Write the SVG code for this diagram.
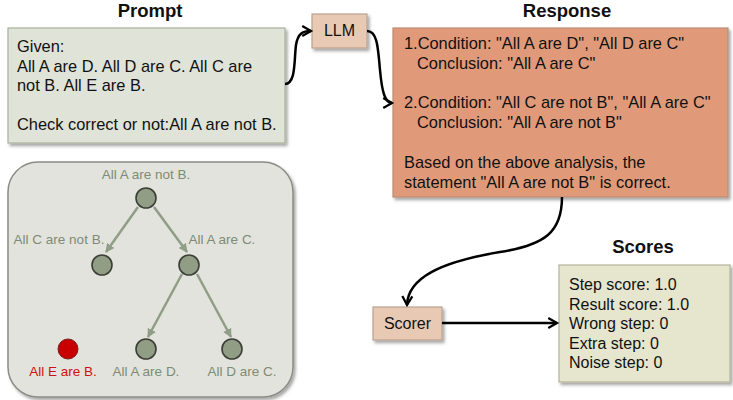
<svg xmlns="http://www.w3.org/2000/svg" width="733" height="400" viewBox="0 0 733 400">
<style>
text{font-family:"Liberation Sans",Arial,sans-serif;}
.t{font-size:16px;fill:#111;}
.tb{font-size:16.4px;}
.title{font-size:18.5px;font-weight:bold;fill:#111;text-anchor:middle;}
.lbl{font-size:13.5px;fill:#7f8b74;text-anchor:middle;}
.conn{fill:none;stroke:#000;stroke-width:2.5;}
.tarr{stroke:#909d87;stroke-width:2.5;fill:none;}
.tn{fill:#919d85;stroke:#3c3f38;stroke-width:1.6;}
</style>
<defs>
<filter id="sh" x="-10%" y="-10%" width="125%" height="130%">
<feDropShadow dx="2" dy="2.5" stdDeviation="1.5" flood-color="#000" flood-opacity="0.35"/>
</filter>
<marker id="ah" viewBox="0 0 10 10" refX="8" refY="5" markerWidth="5" markerHeight="5" orient="auto" markerUnits="strokeWidth">
<path d="M1,1 L8,5 L1,9" fill="none" stroke="#000" stroke-width="1.8"/>
</marker>
<marker id="ta" viewBox="0 0 10 10" refX="9" refY="5" markerWidth="3.6" markerHeight="3.6" orient="auto" markerUnits="strokeWidth">
<path d="M0,0 L10,5 L0,10 z" fill="#909d87"/>
</marker>
</defs>

<text class="title" x="150" y="17">Prompt</text>
<text class="title" x="567" y="17">Response</text>
<text class="title" x="643" y="253">Scores</text>

<g id="prompt">
<rect x="8" y="28" width="277" height="115" fill="#dfe3d8" stroke="#a9b19d" stroke-width="1.2" filter="url(#sh)"/>
<text class="t tb" x="17" y="52">Given:</text>
<text class="t tb" x="17" y="72">All A are D. All D are C. All C are</text>
<text class="t tb" x="17" y="91">not B. All E are B.</text>
<text class="t tb" x="17" y="130">Check correct or not:All A are not B.</text>
</g>

<g id="llm">
<rect x="312" y="14" width="55" height="34" fill="#e8c9b3" stroke="#b9a38f" stroke-width="1.2" filter="url(#sh)"/>
<text class="t" x="339.5" y="36" text-anchor="middle">LLM</text>
</g>

<g id="response">
<rect x="393" y="28" width="335" height="169" fill="#e09a79" stroke="#bb8c72" stroke-width="1.2" filter="url(#sh)"/>
<text class="t tb" x="404" y="49">1.Condition: "All A are D", "All D are C"</text>
<text class="t tb" x="417" y="69">Conclusion: "All A are C"</text>
<text class="t tb" x="404" y="108">2.Condition: "All C are not B", "All A are C"</text>
<text class="t tb" x="417" y="128">Conclusion: "All A are not B"</text>
<text class="t tb" x="404" y="168">Based on the above analysis, the</text>
<text class="t tb" x="404" y="188">statement "All A are not B" is correct.</text>
</g>

<g id="scorer">
<rect x="373" y="307" width="69" height="33" fill="#e8c9b3" stroke="#b9a38f" stroke-width="1.2" filter="url(#sh)"/>
<text class="t" x="407.5" y="329" text-anchor="middle">Scorer</text>
</g>

<g id="scores">
<rect x="559" y="265" width="171" height="117" fill="#e6e5cd" stroke="#b6b49b" stroke-width="1.2" filter="url(#sh)"/>
<text class="t" x="569" y="290">Step score: 1.0</text>
<text class="t" x="569" y="310">Result score: 1.0</text>
<text class="t" x="569" y="329">Wrong step: 0</text>
<text class="t" x="569" y="349">Extra step: 0</text>
<text class="t" x="569" y="368">Noise step: 0</text>
</g>

<g id="tree">
<rect x="8" y="162" width="285" height="235" rx="30" ry="30" fill="#e2e3dc" stroke="#8b8c86" stroke-width="1.5" filter="url(#sh)"/>
<g id="tree-edges">
<line class="tarr" x1="138" y1="207" x2="106" y2="252" marker-end="url(#ta)"/>
<line class="tarr" x1="154" y1="207" x2="187" y2="252" marker-end="url(#ta)"/>
<line class="tarr" x1="182" y1="274" x2="148" y2="337" marker-end="url(#ta)"/>
<line class="tarr" x1="197" y1="274" x2="231" y2="337" marker-end="url(#ta)"/>
</g>
<g id="n-root"><circle class="tn" cx="146" cy="198" r="10"/><text class="lbl" x="146" y="179">All A are not B.</text></g>
<g id="n-cb"><circle class="tn" cx="102" cy="265" r="10"/><text class="lbl" x="59" y="244">All C are not B.</text></g>
<g id="n-ac"><circle class="tn" cx="189" cy="265" r="10"/><text class="lbl" x="222" y="244">All A are C.</text></g>
<g id="n-eb"><circle cx="68" cy="349" r="10" fill="#c80000" stroke="#7a2020" stroke-width="1"/><text class="lbl" x="63" y="376" style="fill:#d01010">All E are B.</text></g>
<g id="n-ad"><circle class="tn" cx="146" cy="349" r="10"/><text class="lbl" x="146" y="376">All A are D.</text></g>
<g id="n-dc"><circle class="tn" cx="232" cy="349" r="10"/><text class="lbl" x="242" y="376">All D are C.</text></g>
</g>

<g id="connectors">
<path class="conn" d="M285,84 C296,84 294,60 296,45 C298,33 303,31 311,31" marker-end="url(#ah)"/>
<path class="conn" d="M367,31 C378,31 378,50 380,70 C382,92 385,103 392,103" marker-end="url(#ah)"/>
<path class="conn" d="M562,197 C562,232 545,245 500,252 C440,262 408,278 407,305" marker-end="url(#ah)"/>
<path class="conn" d="M442,323 L557,323" marker-end="url(#ah)"/>
</g>
</svg>
